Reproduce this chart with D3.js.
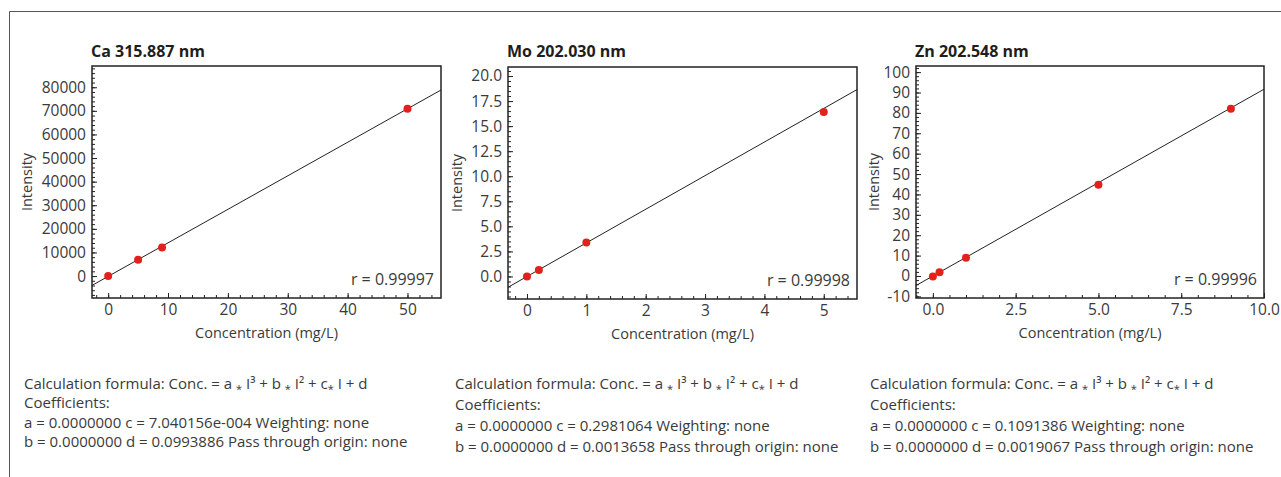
<!DOCTYPE html>
<html>
<head>
<meta charset="utf-8">
<script src="https://cdn.jsdelivr.net/npm/d3@7"></script>
<style>
  body { margin: 0; background: #fff; }
  svg { display: block; }
  text { font-family: "Open Sans", "Noto Sans", sans-serif; fill: #3a3a3a; }
</style>
</head>
<body>
<svg id="chart" width="1281" height="477"></svg>
<script>
// chart data
const titles = ["Ca 315.887 nm", "Mo 202.030 nm", "Zn 202.548 nm"]
const concCa = [0, 5, 9, 50]
const intCa = [0, 6900, 12100, 70900]
const concMo = [0, 0.2, 1, 5]
const intMo = [0, 0.65, 3.4, 16.4]
const concZn = [0, 0.2, 1, 5, 9]
const intZn = [-0.3, 1.8, 9.0, 44.8, 82.0]
const rValues = ["0.99997", "0.99998", "0.99996"]
// fit coefficients (Conc = c * I + d)
const coefC = [7.040156e-4, 0.2981064, 0.1091386]
const coefD = [0.0993886, 0.0013658, 0.0019067]
const coefCText = ["7.040156e-004", "0.2981064", "0.1091386"]
const coefDText = ["0.0993886", "0.0013658", "0.0019067"]
const xTicks = [[0, 10, 20, 30, 40, 50], [0, 1, 2, 3, 4, 5], [0, 2.5, 5, 7.5, 10]]
const yTicks = [
  [0, 10000, 20000, 30000, 40000, 50000, 60000, 70000, 80000],
  [0, 2.5, 5, 7.5, 10, 12.5, 15, 17.5, 20],
  [-10, 0, 10, 20, 30, 40, 50, 60, 70, 80, 90, 100]
]
const xDomains = [[-2.7, 55.6], [-0.32, 5.56], [-0.51, 10.0]]
const yDomains = [[-9300, 89000], [-2.25, 20.9], [-10.8, 103]]
const xMinor = [2, 0.2, 0.5]
const yMinor = [2000, 0.5, 2]
const hyphen = f => v => f(v).replace("\u2212", "-")
const xFormat = [d3.format("d"), d3.format("d"), d3.format(".1f")]
const yFormat = [d3.format("d"), d3.format(".1f"), hyphen(d3.format("d"))]

const points = [
  concCa.map((c, i) => [c, intCa[i]]),
  concMo.map((c, i) => [c, intMo[i]]),
  concZn.map((c, i) => [c, intZn[i]])
]

// layout
const boxes = [
  {left: 92, top: 66, right: 441, bottom: 298, yLabelX: 27},
  {left: 508, top: 67, right: 857, bottom: 299, yLabelX: 457},
  {left: 916, top: 66, right: 1264, bottom: 298, yLabelX: 874}
]
const notes = [
  {x: 24, y: 389, gap: 19.3},
  {x: 455, y: 389, gap: 21},
  {x: 870, y: 388.5, gap: 21.2}
]

const svg = d3.select("#chart")

// outer frame (top + left edge only)
svg.append("path")
  .attr("d", "M9.5,477 V11.5 H1281")
  .attr("fill", "none")
  .attr("stroke", "#555")
  .attr("stroke-width", 1)

const minorTicks = (domain, step) => d3.range(Math.ceil(domain[0] / step), Math.floor(domain[1] / step) + 1)
  .map(i => +(i * step).toFixed(6))

boxes.forEach((b, k) => {
  const x = d3.scaleLinear().domain(xDomains[k]).range([b.left, b.right])
  const y = d3.scaleLinear().domain(yDomains[k]).range([b.bottom, b.top])
  const g = svg.append("g")

  // minor ticks
  g.append("g")
    .attr("transform", `translate(0,${b.bottom})`)
    .call(d3.axisBottom(x).tickValues(minorTicks(xDomains[k], xMinor[k])).tickSize(-3).tickFormat(""))
    .call(s => s.select(".domain").remove())
  g.append("g")
    .attr("transform", `translate(${b.left},0)`)
    .call(d3.axisLeft(y).tickValues(minorTicks(yDomains[k], yMinor[k])).tickSize(-3).tickFormat(""))
    .call(s => s.select(".domain").remove())

  // major ticks + labels
  g.append("g")
    .attr("transform", `translate(0,${b.bottom})`)
    .call(d3.axisBottom(x).tickValues(xTicks[k]).tickSize(-5).tickPadding(6).tickFormat(xFormat[k]))
    .call(s => s.select(".domain").remove())
  g.append("g")
    .attr("transform", `translate(${b.left},0)`)
    .call(d3.axisLeft(y).tickValues(yTicks[k]).tickSize(-5).tickPadding(6).tickFormat(yFormat[k]))
    .call(s => s.select(".domain").remove())

  g.selectAll(".tick line").attr("stroke", "#222")
  g.selectAll(".tick text")
    .attr("font-family", "'Open Sans', sans-serif")
    .attr("font-size", 15.5)
    .attr("fill", "#3a3a3a")

  // fit line: I = (Conc - d) / c
  const clipId = "clip" + k
  svg.append("clipPath").attr("id", clipId)
    .append("rect")
    .attr("x", b.left).attr("y", b.top)
    .attr("width", b.right - b.left).attr("height", b.bottom - b.top)
  const fit = c => (c - coefD[k]) / coefC[k]
  g.append("line")
    .attr("clip-path", `url(#${clipId})`)
    .attr("x1", x(xDomains[k][0])).attr("y1", y(fit(xDomains[k][0])))
    .attr("x2", x(xDomains[k][1])).attr("y2", y(fit(xDomains[k][1])))
    .attr("stroke", "#222")
    .attr("stroke-width", 1)

  // points
  g.selectAll("circle")
    .data(points[k])
    .enter()
    .append("circle")
    .attr("cx", d => x(d[0]))
    .attr("cy", d => y(d[1]))
    .attr("r", 4)
    .attr("fill", "#e3211c")

  // frame
  g.append("rect")
    .attr("x", b.left).attr("y", b.top)
    .attr("width", b.right - b.left).attr("height", b.bottom - b.top)
    .attr("fill", "none")
    .attr("stroke", "#222")
    .attr("stroke-width", 1.5)

  // title
  g.append("text")
    .text(titles[k])
    .attr("x", b.left - 1)
    .attr("y", 57)
    .attr("font-size", 16)
    .attr("font-weight", "bold")
    .style("fill", "#1e1e1e")

  // r value
  g.append("text")
    .text("r = " + rValues[k])
    .attr("x", b.right - 7)
    .attr("y", b.bottom - 13)
    .attr("text-anchor", "end")
    .attr("font-size", 16)

  // axis titles
  g.append("text")
    .text("Concentration (mg/L)")
    .attr("x", (b.left + b.right) / 2)
    .attr("y", b.bottom + 40)
    .attr("text-anchor", "middle")
    .attr("font-size", 14.5)
  g.append("text")
    .text("Intensity")
    .attr("transform", `translate(${b.yLabelX + 5},${(b.top + b.bottom) / 2}) rotate(-90)`)
    .attr("text-anchor", "middle")
    .attr("font-size", 14.5)

  // formula block
  const n = notes[k]
  const note = g.append("g").attr("font-size", 15)
  const first = note.append("text").attr("x", n.x).attr("y", n.y)
  const parts = ["Calculation formula: Conc. = a ", "*", " I\u00b3 + b ", "*", " I\u00b2 + c", "*", " I + d"]
  let shifted = false
  parts.forEach(p => {
    if (p === "*") {
      first.append("tspan").attr("font-size", 11).attr("dy", 4).text(p)
      shifted = true
    } else {
      first.append("tspan").attr("dy", shifted ? -4 : 0).text(p)
      shifted = false
    }
  })
  const lines = [
    "Coefficients:",
    `a = 0.0000000 c = ${coefCText[k]} Weighting: none`,
    `b = 0.0000000 d = ${coefDText[k]} Pass through origin: none`
  ]
  note.selectAll(".line")
    .data(lines)
    .enter()
    .append("text")
    .attr("class", "line")
    .attr("x", n.x)
    .attr("y", (d, i) => n.y + (i + 1) * n.gap)
    .text(d => d)
})
</script>
</body>
</html>
